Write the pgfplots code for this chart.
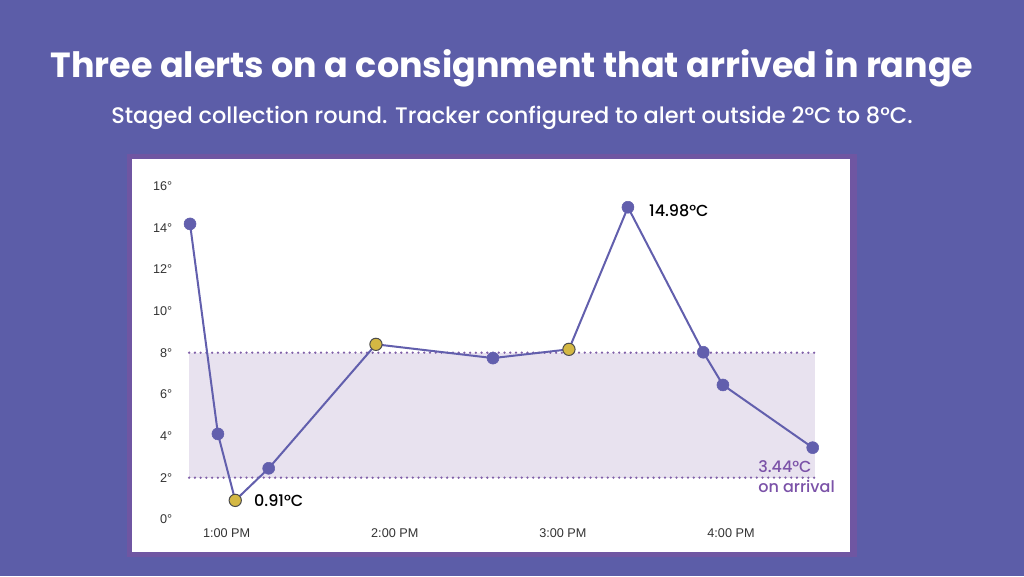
\documentclass[border=0pt]{standalone}
\usepackage{pgfplots}
\pgfplotsset{compat=1.18}
\usepackage{fontspec}
\setmainfont{Liberation Sans}
\newfontfamily\popb{Poppins Bold}
\newfontfamily\pops{Poppins SemiBold}
\newfontfamily\popm{Poppins Medium}

\definecolor{bgc}{HTML}{5C5DA8}
\definecolor{cardb}{HTML}{6F56A2}
\definecolor{linec}{HTML}{625FAD}
\definecolor{bandc}{HTML}{E8E2EF}
\definecolor{dotc}{HTML}{8060A8}
\definecolor{alertc}{HTML}{D4B843}
\definecolor{notec}{HTML}{7B52A8}
\definecolor{tickc}{HTML}{333333}

\begin{document}
\begin{tikzpicture}
% page, card and headings (1px = 0.75pt)
\fill[bgc] (0,0) rectangle (768pt,432pt);
\fill[cardb] (95.25pt,14.25pt) rectangle (642.75pt,316.5pt);
\fill[white] (99pt,18pt) rectangle (637.5pt,312.75pt);
\node[anchor=base, text=white, inner sep=0pt] at (384pt,373.5pt)
  {\resizebox{692pt}{!}{\popb Three alerts on a consignment that arrived in range}};
\node[anchor=base, text=white, inner sep=0pt] at (384pt,339pt)
  {\resizebox{601pt}{!}{\popm Staged collection round. Tracker configured to alert outside 2°C to 8°C.}};

\begin{axis}[
    at={(134.7pt,42.5pt)}, anchor=south west,
    scale only axis, width=482.9pt, height=250pt,
    xmin=-0.28, xmax=3.55, ymin=0, ymax=16,
    axis line style={draw=none},
    major tick length=0pt,
    clip=false,
    xtick={0,1,2,3},
    xticklabels={1:00 PM,2:00 PM,3:00 PM,4:00 PM},
    ytick={0,2,...,16},
    yticklabel={\pgfmathprintnumber[assume math mode=true]{\tick}°},
    ticklabel style={font=\fontsize{9.5}{10}\selectfont, text=tickc},
    xticklabel style={anchor=center, yshift=-10.5pt},
    yticklabel style={anchor=east, xshift=-2pt},
]
% acceptable range 2 to 8 °C
\fill[bandc] (axis cs:-0.223,2) rectangle (axis cs:3.502,8);
\draw[dotc, line width=1.9pt, line cap=round, dash pattern=on 0pt off 4.3pt]
  (axis cs:-0.223,8) -- (axis cs:3.52,8);
\draw[dotc, line width=1.9pt, line cap=round, dash pattern=on 0pt off 4.3pt]
  (axis cs:-0.223,2) -- (axis cs:3.52,2);

% readings, x in hours after 1:00 PM
\addplot[linec, line width=1.5pt, mark=none] coordinates {
    (-0.218,14.18) (-0.052,4.10) (0.051,0.91) (0.250,2.45) (0.888,8.40)
    (1.584,7.74) (2.036,8.16) (2.387,14.98) (2.835,8.02) (2.952,6.45) (3.486,3.44)
};
\addplot[linec, only marks, mark=*, mark size=4.5pt, mark options={fill=linec, draw=linec}] coordinates {
    (-0.218,14.18) (-0.052,4.10) (0.250,2.45) (1.584,7.74)
    (2.387,14.98) (2.835,8.02) (2.952,6.45) (3.486,3.44)
};
\addplot[black!70, only marks, mark=*, mark size=4.6pt, mark options={fill=alertc, draw=black!70, line width=0.75pt}] coordinates {
    (0.051,0.91) (0.888,8.40) (2.036,8.16)
};

\node[anchor=west, font=\popm\fontsize{12}{14}\selectfont, inner sep=0pt, xshift=14pt]
  at (axis cs:0.051,0.91) {0.91°C};
\node[anchor=west, font=\popm\fontsize{12}{14}\selectfont, inner sep=0pt, xshift=15.7pt, yshift=-2.5pt]
  at (axis cs:2.387,14.98) {14.98°C};
\node[anchor=west, align=left, text=notec, font=\popm\fontsize{12}{15}\selectfont, inner sep=0pt]
  at (axis cs:3.161,2.03) {3.44°C\\on arrival};
\end{axis}
\end{tikzpicture}
\end{document}
